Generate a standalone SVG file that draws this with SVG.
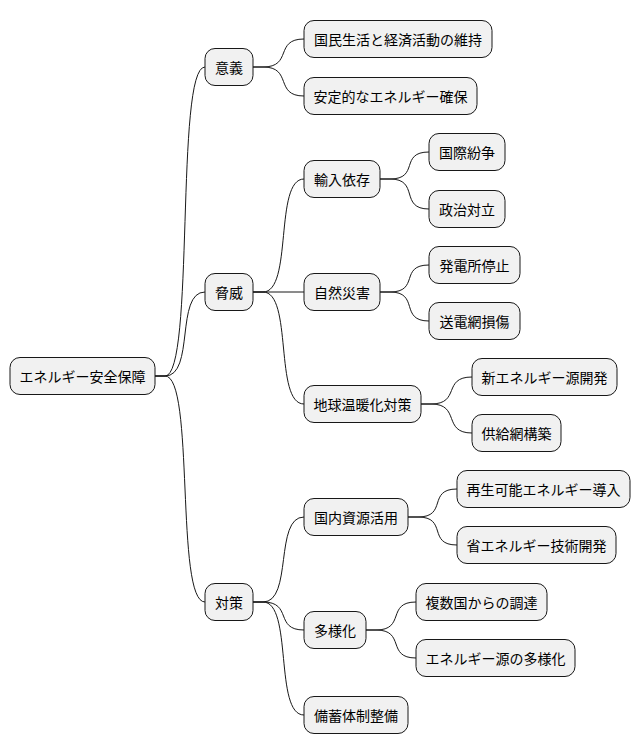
<svg xmlns="http://www.w3.org/2000/svg" width="642" height="752" viewBox="0 0 642 752">
<style>
rect{fill:#f1f1f1;stroke:#181818;stroke-width:1}
text{font-family:"Noto Sans CJK JP","Liberation Sans",sans-serif;font-size:14px;fill:#000;dominant-baseline:central;text-anchor:middle}
#c path{fill:none;stroke:#181818;stroke-width:1}
</style>
<g id="c">
<path d="M155 376 L165 376 C195 376,175 67,205 67"/>
<path d="M155 376 L165 376 C195 376,175 292,205 292"/>
<path d="M155 376 L165 376 C195 376,175 602,205 602"/>
<path d="M253 67 L263 67 C293 67,274 39,304 39"/>
<path d="M253 67 L263 67 C293 67,274 96,304 96"/>
<path d="M253 292 L263 292 C293 292,274 179,304 179"/>
<path d="M253 292 L304 292"/>
<path d="M253 292 L263 292 C293 292,274 404,304 404"/>
<path d="M380 179 L390 179 C420 179,399 152,429 152"/>
<path d="M380 179 L390 179 C420 179,399 209,429 209"/>
<path d="M380 292 L390 292 C420 292,399 265,429 265"/>
<path d="M380 292 L390 292 C420 292,399 321,429 321"/>
<path d="M421 404 L431 404 C461 404,442 377,472 377"/>
<path d="M421 404 L431 404 C461 404,442 433,472 433"/>
<path d="M253 602 L263 602 C293 602,274 517,304 517"/>
<path d="M253 602 L263 602 C293 602,274 630,304 630"/>
<path d="M253 602 L263 602 C293 602,274 715,304 715"/>
<path d="M408 517 L418 517 C448 517,427 489,457 489"/>
<path d="M408 517 L418 517 C448 517,427 545,457 545"/>
<path d="M366 630 L376 630 C406 630,386 602,416 602"/>
<path d="M366 630 L376 630 C406 630,386 658,416 658"/>
</g>
<g id="root"><rect x="10" y="357.5" width="145" height="37" rx="10"/><text x="82.5" y="376">エネルギー安全保障</text></g>
<g id="n1"><rect x="205" y="48.5" width="48" height="37" rx="10"/><text x="229" y="67">意義</text></g>
<g id="n2"><rect x="205" y="273.5" width="48" height="37" rx="10"/><text x="229" y="292">脅威</text></g>
<g id="n3"><rect x="205" y="583.5" width="48" height="37" rx="10"/><text x="229" y="602">対策</text></g>
<g id="n11"><rect x="304" y="20.5" width="188" height="37" rx="10"/><text x="398" y="39">国民生活と経済活動の維持</text></g>
<g id="n12"><rect x="304" y="77.5" width="173" height="37" rx="10"/><text x="390.5" y="96">安定的なエネルギー確保</text></g>
<g id="n21"><rect x="304" y="160.5" width="76" height="37" rx="10"/><text x="342" y="179">輸入依存</text></g>
<g id="n22"><rect x="304" y="273.5" width="76" height="37" rx="10"/><text x="342" y="292">自然災害</text></g>
<g id="n23"><rect x="304" y="385.5" width="117" height="37" rx="10"/><text x="362.5" y="404">地球温暖化対策</text></g>
<g id="n211"><rect x="429" y="133.5" width="76" height="37" rx="10"/><text x="467" y="152">国際紛争</text></g>
<g id="n212"><rect x="429" y="190.5" width="76" height="37" rx="10"/><text x="467" y="209">政治対立</text></g>
<g id="n221"><rect x="429" y="246.5" width="91" height="37" rx="10"/><text x="474.5" y="265">発電所停止</text></g>
<g id="n222"><rect x="429" y="302.5" width="91" height="37" rx="10"/><text x="474.5" y="321">送電網損傷</text></g>
<g id="n231"><rect x="472" y="358.5" width="145" height="37" rx="10"/><text x="544.5" y="377">新エネルギー源開発</text></g>
<g id="n232"><rect x="472" y="414.5" width="89" height="37" rx="10"/><text x="516.5" y="433">供給網構築</text></g>
<g id="n31"><rect x="304" y="498.5" width="104" height="37" rx="10"/><text x="356" y="517">国内資源活用</text></g>
<g id="n32"><rect x="304" y="611.5" width="62" height="37" rx="10"/><text x="335" y="630">多様化</text></g>
<g id="n33"><rect x="304" y="696.5" width="104" height="37" rx="10"/><text x="356" y="715">備蓄体制整備</text></g>
<g id="n311"><rect x="457" y="470.5" width="173" height="37" rx="10"/><text x="543.5" y="489">再生可能エネルギー導入</text></g>
<g id="n312"><rect x="457" y="526.5" width="159" height="37" rx="10"/><text x="536.5" y="545">省エネルギー技術開発</text></g>
<g id="n321"><rect x="416" y="583.5" width="131" height="37" rx="10"/><text x="481.5" y="602">複数国からの調達</text></g>
<g id="n322"><rect x="416" y="639.5" width="159" height="37" rx="10"/><text x="495.5" y="658">エネルギー源の多様化</text></g>
</svg>
